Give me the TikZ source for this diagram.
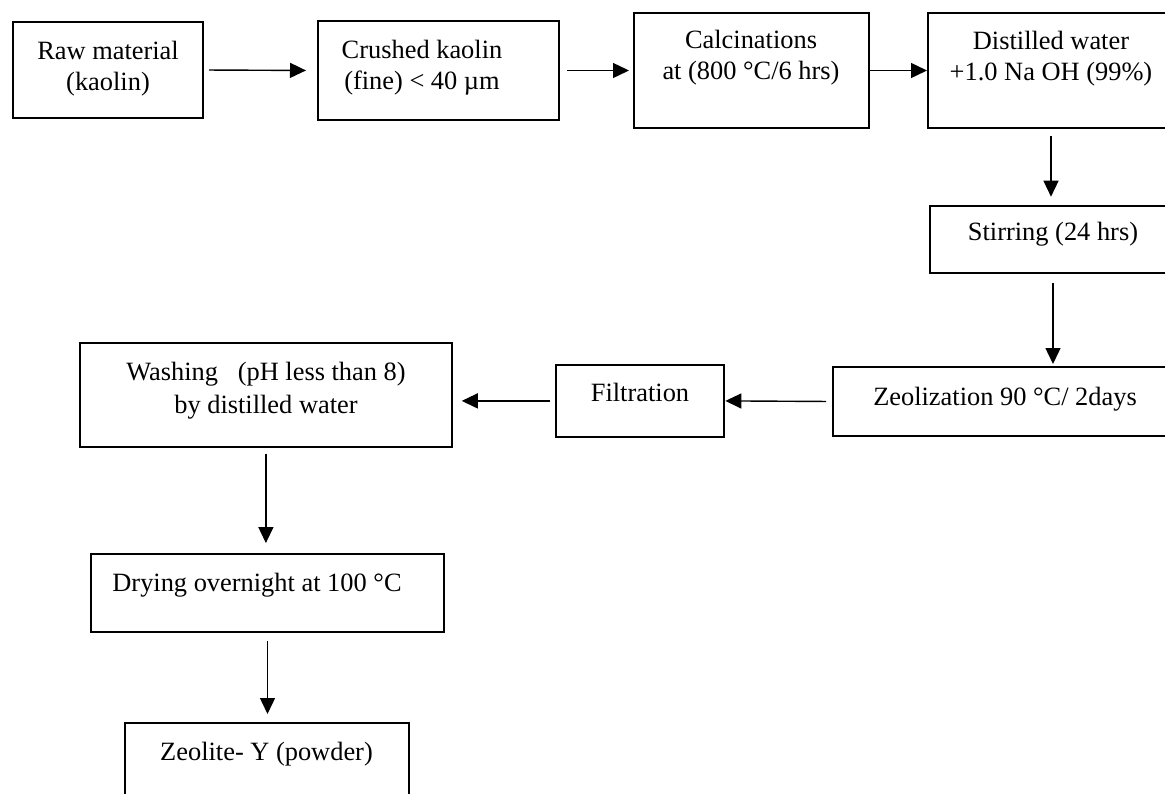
\documentclass[tikz,border=0pt]{standalone}
\usepackage{fontspec}
\setmainfont{Liberation Serif}
\usepackage{tikz}
\usetikzlibrary{calc, positioning, arrows.meta}

\begin{document}
\begin{tikzpicture}[x=1pt, y=-1pt,
	stepbox/.style={draw, line width=2pt, rectangle, inner sep=0pt},
	txt/.style={inner sep=0pt, anchor=base, align=center, font=\fontsize{26.4}{31}\selectfont},
	flow/.style={line width=1.4pt, -{Triangle[length=16pt, width=15pt]}}]
	\useasboundingbox (0,0) rectangle (1165,793);
	\clip (0,0) rectangle (1165,793);
	
	%boxes, top row
	\node[stepbox, minimum width=190.4pt, minimum height=96.6pt] (raw) at (107.8,70) {};
	\node[stepbox, minimum width=241pt, minimum height=99pt] (crush) at (438.5,70.5) {};
	\node[stepbox, minimum width=235pt, minimum height=115pt] (calc) at (751.5,70.5) {};
	\node[stepbox, minimum width=246pt, minimum height=115pt] (dist) at (1051,70.5) {};
	
	%boxes, right column and middle row
	\node[stepbox, minimum width=246pt, minimum height=67.6pt] (stir) at (1053,239.5) {};
	\node[stepbox, minimum width=344pt, minimum height=69pt] (zeol) at (1005,401.5) {};
	\node[stepbox, minimum width=168.7pt, minimum height=71.7pt] (filt) at (640,400.9) {};
	\node[stepbox, minimum width=371.7pt, minimum height=104pt] (wash) at (265.9,394.7) {};
	
	%boxes, left column
	\node[stepbox, minimum width=353.6pt, minimum height=78.3pt] (dry) at (267.5,593.2) {};
	\node[stepbox, minimum width=283.7pt, minimum height=90pt] (zy) at (266.9,768) {};
	
	%texts (base = last line)
	\node[txt] (rawtxt) at (108,90) {Raw material\\(kaolin)};
	\node[txt] (crushtxt) at (422,89) {Crushed kaolin\\(fine) < 40 µm};
	\node[txt] (calctxt) at (751,79.5) {Calcinations\\at (800 °C/6 hrs)};
	\node[txt] (disttxt) at (1051,80) {Distilled water\\+1.0 Na OH (99\%)};
	\node[txt] (stirtxt) at (1053,240) {Stirring (24 hrs)};
	\node[txt] (zeoltxt) at (1005,405) {Zeolization 90 °C/ 2days};
	\node[txt] (filttxt) at (640,401) {Filtration};
	\node[txt, font=\fontsize{26.4}{33}\selectfont] (washtxt) at (266,413) {Washing\ \ \ (pH less than 8)\\by distilled water};
	\node[txt] (drytxt) at (257,591) {Drying overnight at 100 °C};
	\node[txt] (zytxt) at (266.5,760) {Zeolite- Y (powder)};
	
	%arrows
	\draw[flow, shorten <=5pt, shorten >=11pt] (raw.east) -- (crush.west);
	\draw[flow, shorten <=7pt, shorten >=4pt] (crush.east) -- (calc.west);
	\draw[flow] (calc.east) -- (dist.west);
	\draw[flow, shorten <=7pt, shorten >=8pt] (dist.south) -- (dist.south |- stir.north);
	\draw[flow, shorten <=9pt, shorten >=2pt] (stir.south) -- (stir.south |- zeol.north);
	\draw[flow, shorten <=6pt] (zeol.west) -- (filt.east);
	\draw[flow, shorten <=5pt, shorten >=9pt] (filt.west) -- (filt.west -| wash.east);
	\draw[flow, shorten <=6pt, shorten >=10pt] (wash.south) -- (wash.south |- dry.north);
	\draw[flow, shorten <=8pt, shorten >=8pt] (dry.south) -- (dry.south |- zy.north);
\end{tikzpicture}
\end{document}
